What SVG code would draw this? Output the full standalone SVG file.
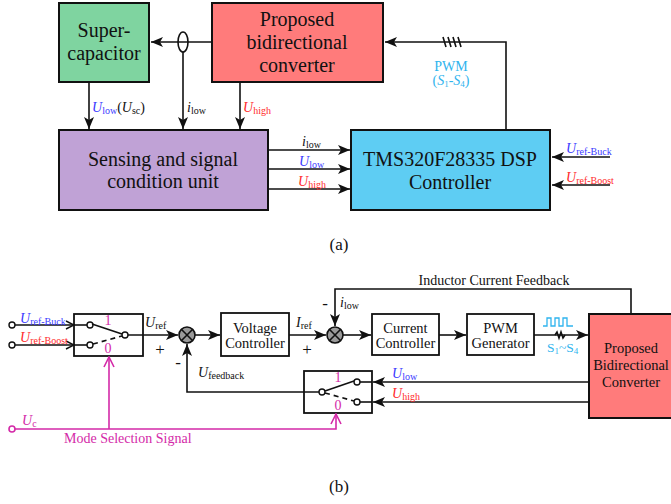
<svg xmlns="http://www.w3.org/2000/svg" width="671" height="504" viewBox="0 0 671 504" font-family="Liberation Serif, Times New Roman, serif">
<style>
text{font-family:"Liberation Serif","Times New Roman",serif;fill:#111}
.box{stroke:#111;stroke-width:2}
.ln{stroke:#111;stroke-width:1.6;fill:none}
.mg{stroke:#d42aa8;stroke-width:1.6;fill:none}
.t18{font-size:20px;text-anchor:middle}
.t14{font-size:14.5px;text-anchor:middle}
.lb{font-size:14px}
.sub{font-size:10px;font-style:normal}
.it{font-style:italic}
.blue{fill:#3a3aff}
.red{fill:#ff2a2a}
.cy{fill:#2fb4ee}
.mgt{fill:#d42aa8}
.sj{fill:#9a9a9a;stroke:#111;stroke-width:1.6}
</style>
<defs>
<marker id="ah" viewBox="0 0 12 10" refX="12" refY="5" markerWidth="12" markerHeight="10" markerUnits="userSpaceOnUse" orient="auto">
<path d="M0,0 L12,5 L0,10 L3,5 z" fill="#111"/>
</marker>
<marker id="oa" viewBox="0 0 10 10" refX="9" refY="5" markerWidth="10" markerHeight="10" markerUnits="userSpaceOnUse" orient="auto">
<path d="M1,1 L9,5 L1,9" fill="none" stroke="#111" stroke-width="1.4"/>
</marker>
<marker id="om" viewBox="0 0 12 12" refX="11" refY="6" markerWidth="12" markerHeight="12" markerUnits="userSpaceOnUse" orient="auto">
<path d="M1,1 L11,6 L1,11" fill="none" stroke="#d42aa8" stroke-width="1.6"/>
</marker>
</defs>

<!-- ===== (a) ===== -->
<g id="supercap">
<rect class="box" x="59" y="3" width="90" height="79" fill="#7fd4a0"/>
<text class="t18" x="104" y="37">Super-</text>
<text class="t18" x="104" y="60">capacitor</text>
</g>
<g id="converter-a">
<rect class="box" x="212" y="3" width="171" height="79" fill="#ff7b7b"/>
<text class="t18" x="297" y="26">Proposed</text>
<text class="t18" x="297" y="49">bidirectional</text>
<text class="t18" x="297" y="72">converter</text>
</g>
<g id="sensing">
<rect class="box" x="59" y="130" width="209" height="80" fill="#c0a2d6"/>
<text class="t18" x="163" y="166">Sensing and signal</text>
<text class="t18" x="163" y="188">condition unit</text>
</g>
<g id="dsp">
<rect class="box" x="351" y="130" width="199" height="80" fill="#5ecdf3"/>
<text class="t18" x="450" y="166">TMS320F28335 DSP</text>
<text class="t18" x="450" y="189">Controller</text>
</g>

<g id="connectors-a">
<line class="ln" x1="212" y1="42" x2="151" y2="42" marker-end="url(#ah)"/>
<ellipse cx="183" cy="42" rx="5" ry="10" fill="none" stroke="#111" stroke-width="1.6"/>
<line class="ln" x1="183" y1="52" x2="183" y2="129" marker-end="url(#ah)"/>
<line class="ln" x1="89" y1="82" x2="89" y2="129" marker-end="url(#ah)"/>
<line class="ln" x1="240" y1="82" x2="240" y2="129" marker-end="url(#ah)"/>
<line class="ln" x1="268" y1="150" x2="350" y2="150" marker-end="url(#ah)"/>
<line class="ln" x1="268" y1="169" x2="350" y2="169" marker-end="url(#ah)"/>
<line class="ln" x1="268" y1="189" x2="350" y2="189" marker-end="url(#ah)"/>
<polyline class="ln" points="506,130 506,42 385,42" marker-end="url(#ah)"/>
<path class="ln" d="M443,37 L446,47 M448,37 L451,47 M453,37 L456,47 M458,37 L461,47"/>
<line class="ln" x1="610" y1="157" x2="552" y2="157" marker-end="url(#ah)"/>
<line class="ln" x1="610" y1="185" x2="552" y2="185" marker-end="url(#ah)"/>
</g>

<g id="labels-a">
<text class="lb" x="92" y="112"><tspan class="it blue">U</tspan><tspan class="sub blue" dy="2">low</tspan><tspan dy="-2">(</tspan><tspan class="it">U</tspan><tspan class="sub" dy="2">sc</tspan><tspan dy="-2">)</tspan></text>
<text class="lb" x="187" y="112"><tspan class="it">i</tspan><tspan class="sub" dy="2">low</tspan></text>
<text class="lb red" x="243" y="112"><tspan class="it">U</tspan><tspan class="sub" dy="2">high</tspan></text>
<text class="lb" x="302" y="146"><tspan class="it">i</tspan><tspan class="sub" dy="2">low</tspan></text>
<text class="lb blue" x="299" y="166"><tspan class="it">U</tspan><tspan class="sub" dy="2">low</tspan></text>
<text class="lb red" x="298" y="186"><tspan class="it">U</tspan><tspan class="sub" dy="2">high</tspan></text>
<text class="cy" x="451" y="71" font-size="14" text-anchor="middle">PWM</text>
<text class="cy" x="451" y="85" font-size="14" text-anchor="middle">(<tspan class="it">S</tspan><tspan font-size="9" dy="2">1</tspan><tspan dy="-2">-</tspan><tspan class="it">S</tspan><tspan font-size="9" dy="2">4</tspan><tspan dy="-2">)</tspan></text>
<text class="lb blue" x="566" y="153"><tspan class="it">U</tspan><tspan class="sub" dy="2">ref-Buck</tspan></text>
<text class="lb red" x="566" y="182"><tspan class="it">U</tspan><tspan class="sub" dy="2">ref-Boost</tspan></text>
<text x="339" y="250" font-size="17" text-anchor="middle">(a)</text>
</g>

<!-- ===== (b) ===== -->
<g id="switch1">
<rect x="74" y="314" width="69" height="42" fill="none" stroke="#111" stroke-width="1.8"/>
<circle cx="90" cy="325" r="3" fill="#fff" stroke="#111" stroke-width="1.4"/>
<circle cx="90" cy="345" r="3" fill="#fff" stroke="#111" stroke-width="1.4"/>
<circle cx="125" cy="335" r="3" fill="#fff" stroke="#111" stroke-width="1.4"/>
<line class="ln" x1="92" y1="324" x2="122" y2="334"/>
<line class="ln" x1="93" y1="344" x2="122" y2="336" stroke-dasharray="5,4"/>
<text class="mgt" x="108" y="325" font-size="14" text-anchor="middle">1</text>
<text class="mgt" x="108" y="353" font-size="14" text-anchor="middle">0</text>
</g>
<g id="sum1">
<circle class="sj" cx="187" cy="335" r="8"/>
<path class="ln" d="M181.3,329.3 L192.7,340.7 M192.7,329.3 L181.3,340.7"/>
</g>
<g id="voltage-controller">
<rect x="221" y="313" width="68" height="43" fill="#fff" stroke="#111" stroke-width="1.8"/>
<text class="t14" x="255" y="333">Voltage</text>
<text class="t14" x="255" y="348">Controller</text>
</g>
<g id="sum2">
<circle class="sj" cx="335" cy="335" r="8"/>
<path class="ln" d="M329.3,329.3 L340.7,340.7 M340.7,329.3 L329.3,340.7"/>
</g>
<g id="current-controller">
<rect x="372" y="314" width="67" height="41" fill="#fff" stroke="#111" stroke-width="1.8"/>
<text class="t14" x="405.5" y="333">Current</text>
<text class="t14" x="405.5" y="348">Controller</text>
</g>
<g id="pwm-generator">
<rect x="467" y="314" width="67" height="41" fill="#fff" stroke="#111" stroke-width="1.8"/>
<text class="t14" x="500.5" y="333">PWM</text>
<text class="t14" x="500.5" y="348">Generator</text>
</g>
<g id="converter-b">
<rect class="box" x="589" y="314" width="84" height="104" fill="#ff7b7b"/>
<text class="t14" x="631" y="353">Proposed</text>
<text class="t14" x="631" y="370">Bidirectional</text>
<text class="t14" x="631" y="387">Converter</text>
</g>
<g id="switch2">
<rect x="304" y="371" width="68" height="42" fill="none" stroke="#111" stroke-width="1.8"/>
<circle cx="322" cy="392" r="3" fill="#fff" stroke="#111" stroke-width="1.4"/>
<circle cx="357" cy="382" r="3" fill="#fff" stroke="#111" stroke-width="1.4"/>
<circle cx="357" cy="402" r="3" fill="#fff" stroke="#111" stroke-width="1.4"/>
<line class="ln" x1="325" y1="391" x2="354" y2="381"/>
<line class="ln" x1="325" y1="393" x2="354" y2="401" stroke-dasharray="5,4"/>
<text class="mgt" x="338" y="382" font-size="14" text-anchor="middle">1</text>
<text class="mgt" x="338" y="410" font-size="14" text-anchor="middle">0</text>
</g>

<g id="connectors-b">
<circle cx="12" cy="325" r="3" fill="#fff" stroke="#111" stroke-width="1.4"/>
<circle cx="12" cy="345" r="3" fill="#fff" stroke="#111" stroke-width="1.4"/>
<line class="ln" x1="15" y1="325" x2="74" y2="325" marker-end="url(#oa)"/>
<line class="ln" x1="74" y1="325" x2="87" y2="325"/>
<line class="ln" x1="15" y1="345" x2="74" y2="345" marker-end="url(#oa)"/>
<line class="ln" x1="74" y1="345" x2="87" y2="345"/>
<line class="ln" x1="128" y1="335" x2="178" y2="335" marker-end="url(#ah)"/>
<line class="ln" x1="195" y1="335" x2="220" y2="335" marker-end="url(#ah)"/>
<line class="ln" x1="289" y1="335" x2="326" y2="335" marker-end="url(#ah)"/>
<line class="ln" x1="343" y1="335" x2="371" y2="335" marker-end="url(#ah)"/>
<line class="ln" x1="439" y1="335" x2="466" y2="335" marker-end="url(#ah)"/>
<line class="ln" x1="534" y1="335" x2="588" y2="335" marker-end="url(#ah)"/>
<path d="M543,326 H547 V318 H551 V326 H555 V318 H559 V326 H563 V318 H567 V326 H573" fill="none" stroke="#2fb4ee" stroke-width="1.3"/>
<path class="ln" d="M555,335 L557,332 L559,338 L561,332 L563,338 L565,335"/>
<polyline class="ln" points="631,314 631,289 335,289 335,326" marker-end="url(#ah)"/>
<line class="ln" x1="589" y1="382" x2="373" y2="382" marker-end="url(#ah)"/>
<line class="ln" x1="372" y1="382" x2="360" y2="382"/>
<line class="ln" x1="589" y1="402" x2="373" y2="402" marker-end="url(#ah)"/>
<line class="ln" x1="372" y1="402" x2="360" y2="402"/>
<polyline class="ln" points="319,392 187,392 187,344" marker-end="url(#ah)"/>
<circle cx="12" cy="429" r="3" fill="#fff" stroke="#d42aa8" stroke-width="1.6"/>
<polyline class="mg" points="15,429 336,429 336,414" marker-end="url(#om)"/>
<line class="mg" x1="109" y1="429" x2="109" y2="357" marker-end="url(#om)"/>
</g>

<g id="labels-b">
<text class="lb blue" x="20" y="323"><tspan class="it">U</tspan><tspan class="sub" dy="2">ref-Buck</tspan></text>
<text class="lb red" x="20" y="342"><tspan class="it">U</tspan><tspan class="sub" dy="2">ref-Boost</tspan></text>
<text class="lb" x="145" y="327"><tspan class="it">U</tspan><tspan class="sub" dy="2">ref</tspan></text>
<text x="160" y="355" font-size="17" text-anchor="middle">+</text>
<text x="178" y="368" font-size="17" text-anchor="middle">-</text>
<text class="lb" x="198" y="377"><tspan class="it">U</tspan><tspan class="sub" dy="2">feedback</tspan></text>
<text class="lb" x="296" y="327"><tspan class="it">I</tspan><tspan class="sub" dy="2">ref</tspan></text>
<text x="307" y="355" font-size="17" text-anchor="middle">+</text>
<text x="325" y="309" font-size="17" text-anchor="middle">-</text>
<text class="lb" x="340" y="307"><tspan class="it">i</tspan><tspan class="sub" dy="2">low</tspan></text>
<text x="494" y="285" font-size="14" text-anchor="middle">Inductor Current Feedback</text>
<text class="cy" x="547" y="352" font-size="13.5">S<tspan font-size="9" dy="2">1</tspan><tspan dy="-2">~S</tspan><tspan font-size="9" dy="2">4</tspan></text>
<text class="lb blue" x="392" y="378"><tspan class="it">U</tspan><tspan class="sub" dy="2">low</tspan></text>
<text class="lb red" x="392" y="398"><tspan class="it">U</tspan><tspan class="sub" dy="2">high</tspan></text>
<text class="lb mgt" x="22" y="425"><tspan class="it">U</tspan><tspan class="sub" dy="2">c</tspan></text>
<text class="mgt" x="64" y="443" font-size="14">Mode Selection Signal</text>
<text x="339" y="492" font-size="17" text-anchor="middle">(b)</text>
</g>
</svg>
